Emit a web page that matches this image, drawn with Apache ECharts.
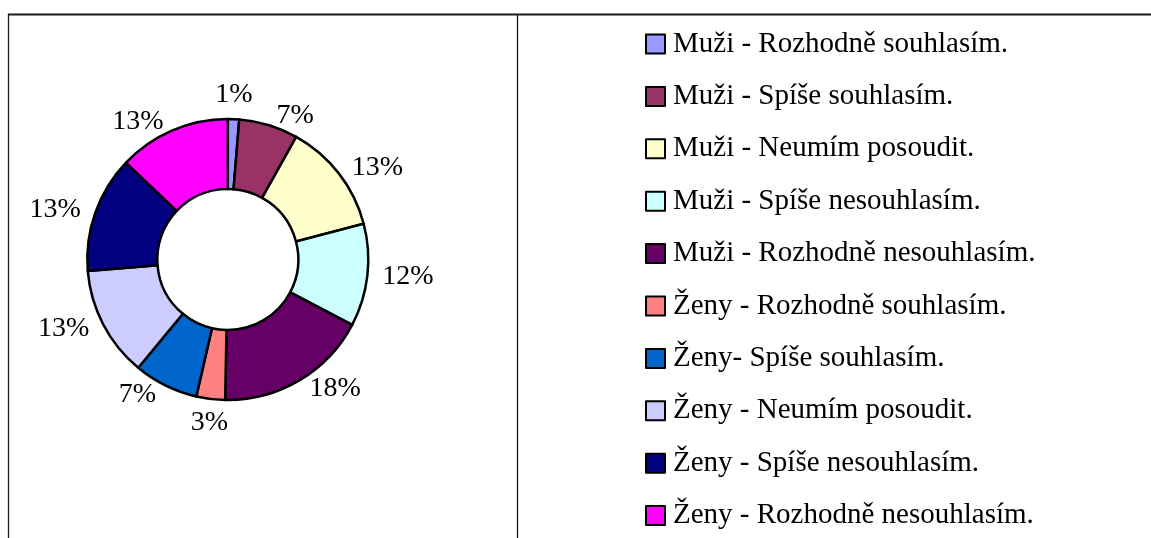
<!DOCTYPE html>
<html>
<head>
<meta charset="utf-8">
<script src="https://cdn.jsdelivr.net/npm/echarts@6/dist/echarts.min.js"></script>
<style>
html,body{margin:0;padding:0;background:#fff;}
#chart{width:1151px;height:538px;}
</style>
</head>
<body>
<div id="chart"></div>
<script>
const categories = [
  'Muži - Rozhodně souhlasím.',
  'Muži - Spíše souhlasím.',
  'Muži - Neumím posoudit.',
  'Muži - Spíše nesouhlasím.',
  'Muži - Rozhodně nesouhlasím.',
  'Ženy - Rozhodně souhlasím.',
  'Ženy- Spíše souhlasím.',
  'Ženy - Neumím posoudit.',
  'Ženy - Spíše nesouhlasím.',
  'Ženy - Rozhodně nesouhlasím.'
];
const values = [1.3, 6.8, 12.8, 11.8, 17.6, 3.3, 7.4, 12.7, 13.4, 12.9];
const colors = ['#9999FF', '#993366', '#FFFFCC', '#CCFFFF', '#660066', '#FF8080', '#0066CC', '#CCCCFF', '#000080', '#FF00FF'];

const chart = echarts.init(document.getElementById('chart'), null, {renderer: 'canvas'});
const font = '"Liberation Serif", "Times New Roman", serif';
const pieCenter = [227.8, 259.5];

chart.setOption({
  animation: false,
  backgroundColor: '#ffffff',
  color: colors,
  graphic: [
    {type: 'line', shape: {x1: 8, y1: 14.5, x2: 1151, y2: 14.5}, style: {stroke: '#1a1a1a', lineWidth: 2}, silent: true},
    {type: 'line', shape: {x1: 8.5, y1: 14, x2: 8.5, y2: 538}, style: {stroke: '#1a1a1a', lineWidth: 1.3}, silent: true},
    {type: 'line', shape: {x1: 517.5, y1: 14, x2: 517.5, y2: 538}, style: {stroke: '#1a1a1a', lineWidth: 1.3}, silent: true}
  ],
  legend: {
    orient: 'vertical',
    left: 645,
    top: 29.5,
    height: 538,
    padding: 0,
    itemWidth: 19,
    itemHeight: 19,
    itemGap: 23.4,
    icon: 'rect',
    itemStyle: {borderColor: '#000', borderWidth: 2},
    textStyle: {fontFamily: font, fontSize: 29, color: '#000', lineHeight: 28, padding: [0, 0, 0, 3]},
    data: categories,
    selectedMode: false
  },
  series: [{
    type: 'pie',
    center: pieCenter,
    radius: [70.5, 140.5],
    startAngle: 90,
    clockwise: true,
    avoidLabelOverlap: false,
    emphasis: {disabled: true},
    itemStyle: {borderColor: '#000', borderWidth: 2.5},
    label: {
      show: true,
      position: 'outside',
      fontFamily: font,
      fontSize: 28,
      color: '#000',
      formatter: p => Math.round(p.value) + '%'
    },
    labelLine: {show: false, length: 10, length2: 0},
    labelLayout: function (params) {
      const r = params.labelRect;
      const radialX = params.align === 'right' ? r.x + r.width + 5 : r.x - 5;
      const radialY = r.y + r.height / 2;
      if (Math.abs(radialX - pieCenter[0]) < 40) {
        return {
          x: radialX,
          y: radialY,
          align: 'center',
          verticalAlign: radialY < pieCenter[1] ? 'bottom' : 'top'
        };
      }
      return {};
    },
    data: categories.map((c, i) => ({name: c, value: values[i]}))
  }]
});
</script>
</body>
</html>
